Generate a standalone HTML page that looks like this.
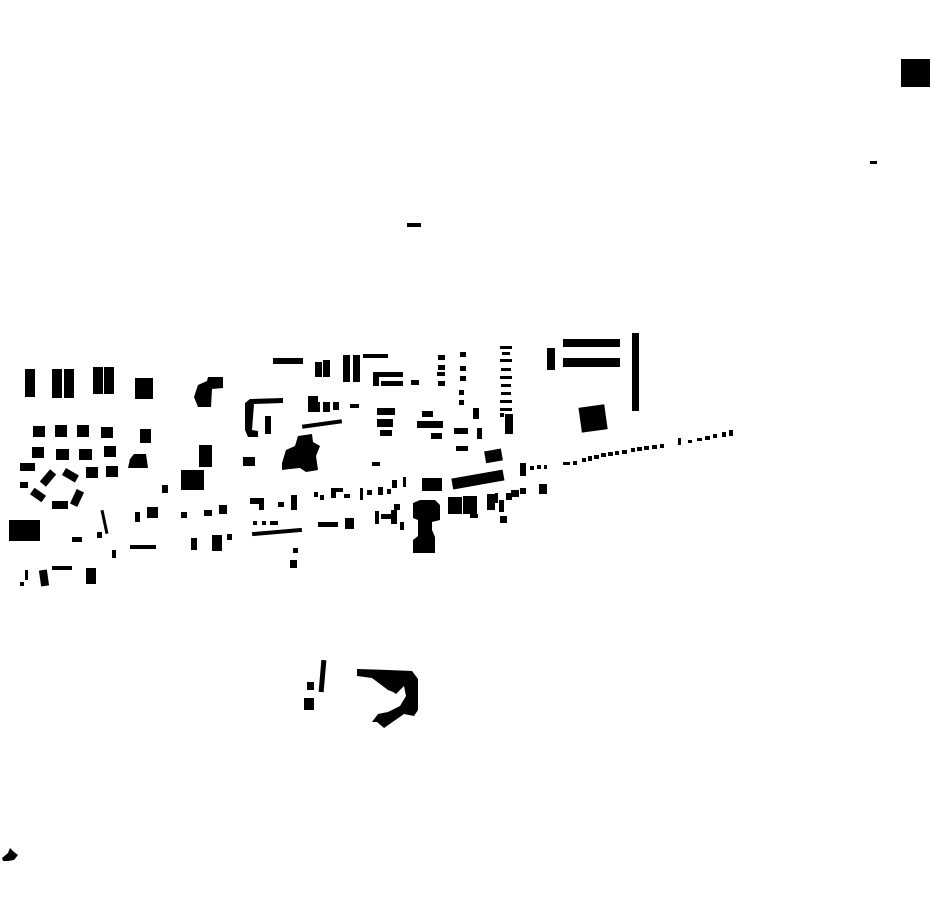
<!DOCTYPE html>
<html><head><meta charset="utf-8"><style>html,body{margin:0;padding:0;background:#fff}svg{display:block}</style></head>
<body>
<svg width="930" height="924" viewBox="0 0 930 924" xmlns="http://www.w3.org/2000/svg" fill="#000">
<!-- far -->
<rect x="901" y="59" width="29" height="28"/>
<rect x="870" y="161" width="7" height="3"/>
<rect x="407" y="223" width="14" height="4"/>
<!-- west slabs -->
<rect x="25" y="369" width="10" height="28"/>
<rect x="52" y="369" width="10" height="29"/>
<rect x="64" y="369" width="10" height="29"/>
<rect x="93" y="367" width="10" height="27"/>
<rect x="104" y="367" width="10" height="27"/>
<rect x="135" y="378" width="18" height="21"/>
<path d="M198 385 L207 381 L208 377 L223 377 L223 388 L212 389 L211 407 L198 407 L194 397 Z"/>
<!-- crosses -->
<g>
<rect x="33" y="426" width="12" height="11"/><rect x="55" y="425" width="12" height="12"/><rect x="77" y="425" width="12" height="12"/><rect x="101" y="427" width="12" height="11"/>
<rect x="32" y="447" width="12" height="11"/><rect x="56" y="449" width="13" height="11"/><rect x="79" y="449" width="13" height="11"/><rect x="104" y="446" width="12" height="11"/>
<rect x="86" y="467" width="12" height="11"/><rect x="106" y="466" width="12" height="11"/>
</g>
<rect x="140" y="429" width="11" height="14"/>
<path d="M128 468 L130 459 L134 454 L146 454 L148 468 Z"/>
<!-- ring -->
<rect x="20" y="463" width="15" height="8"/>
<rect x="44" y="470" width="8" height="16" transform="rotate(40 48 478)"/>
<rect x="63" y="471" width="15" height="8" transform="rotate(30 70 475)"/>
<rect x="20" y="482" width="8" height="6"/>
<rect x="31" y="491" width="14" height="8" transform="rotate(35 38 495)"/>
<rect x="52" y="501" width="16" height="8"/>
<rect x="73" y="490" width="8" height="16" transform="rotate(25 77 498)"/>
<rect x="9" y="520" width="31" height="21"/>
<rect x="103" y="510" width="3" height="24" transform="rotate(-12 104 522)"/>
<rect x="72" y="537" width="10" height="5"/>
<rect x="97" y="532" width="5" height="6"/>
<rect x="135" y="512" width="5" height="10"/><rect x="147" y="507" width="11" height="11"/>
<rect x="162" y="485" width="6" height="8"/>
<rect x="181" y="470" width="23" height="20"/>
<rect x="199" y="445" width="13" height="22"/>
<rect x="181" y="512" width="6" height="6"/><rect x="204" y="510" width="8" height="6"/><rect x="219" y="505" width="8" height="9"/>
<rect x="250" y="498" width="14" height="6"/><rect x="259" y="498" width="5" height="12"/>
<rect x="278" y="502" width="6" height="5"/><rect x="291" y="495" width="6" height="15"/>
<rect x="130" y="545" width="26" height="4"/>
<rect x="112" y="550" width="4" height="8"/>
<rect x="191" y="538" width="6" height="12"/><rect x="212" y="535" width="10" height="16"/><rect x="227" y="534" width="5" height="6"/>
<rect x="252" y="530" width="50" height="4" transform="rotate(-5 277 532)"/>
<rect x="293" y="548" width="5" height="5"/><rect x="290" y="560" width="7" height="8"/>
<!-- south-west -->
<rect x="25" y="570" width="3" height="10"/><rect x="20" y="582" width="4" height="4"/>
<rect x="40" y="570" width="8" height="16" transform="rotate(-8 44 578)"/>
<rect x="52" y="566" width="20" height="4"/>
<rect x="86" y="568" width="10" height="16"/>
<!-- middle north -->
<rect x="273" y="358" width="30" height="6"/>
<rect x="315" y="362" width="7" height="15"/><rect x="323" y="360" width="7" height="17"/>
<rect x="343" y="355" width="7" height="27"/><rect x="353" y="355" width="7" height="27"/>
<rect x="363" y="354" width="25" height="4"/>
<rect x="373" y="372" width="6" height="14"/><rect x="373" y="372" width="30" height="5"/><rect x="381" y="381" width="22" height="5"/>
<rect x="411" y="380" width="8" height="5"/>
<rect x="438" y="355" width="7" height="5"/><rect x="438" y="365" width="7" height="5"/><rect x="437" y="372" width="8" height="4"/><rect x="438" y="381" width="7" height="5"/>
<rect x="460" y="352" width="6" height="5"/><rect x="460" y="366" width="6" height="5"/><rect x="460" y="376" width="6" height="5"/><rect x="459" y="390" width="5" height="5"/><rect x="459" y="400" width="5" height="5"/>
<rect x="500" y="346" width="12" height="3"/><rect x="502" y="352" width="8" height="3"/><rect x="500" y="359" width="12" height="3"/><rect x="501" y="368" width="10" height="3"/><rect x="500" y="376" width="12" height="3"/><rect x="501" y="384" width="10" height="3"/><rect x="501" y="392" width="10" height="3"/><rect x="500" y="400" width="12" height="3"/><rect x="500" y="408" width="12" height="3"/><rect x="505" y="414" width="8" height="20"/><rect x="500" y="413" width="4" height="4"/>
<rect x="547" y="348" width="8" height="22"/>
<rect x="563" y="339" width="57" height="8"/><rect x="563" y="358" width="57" height="9"/>
<rect x="632" y="333" width="7" height="78"/>
<rect x="580" y="406" width="26" height="25" transform="rotate(-8 593 418)"/>
<!-- center -->
<path d="M245 403 L250 399 L283 398 L283 403 L254 404 L252 430 L258 431 L258 437 L248 437 L245 430 Z"/>
<rect x="265" y="416" width="6" height="18"/>
<rect x="308" y="396" width="10" height="7"/><rect x="308" y="402" width="12" height="10"/><rect x="323" y="402" width="7" height="10"/><rect x="333" y="402" width="6" height="8"/>
<rect x="350" y="404" width="9" height="4"/>
<rect x="302" y="422" width="40" height="4" transform="rotate(-8 322 424)"/>
<path d="M282 463 L286 450 L295 446 L298 436 L312 434 L313 442 L320 446 L316 456 L318 470 L306 472 L300 468 L290 469 L282 470 Z"/>
<rect x="243" y="457" width="12" height="9"/>
<rect x="372" y="462" width="8" height="4"/>
<rect x="377" y="408" width="18" height="7"/><rect x="377" y="419" width="16" height="8"/><rect x="380" y="430" width="12" height="6"/>
<rect x="422" y="411" width="11" height="6"/><rect x="417" y="421" width="26" height="7"/><rect x="431" y="433" width="11" height="6"/>
<rect x="454" y="428" width="14" height="6"/><rect x="456" y="446" width="12" height="5"/>
<rect x="473" y="408" width="6" height="11"/><rect x="477" y="428" width="5" height="11"/>
<rect x="485" y="450" width="17" height="12" transform="rotate(-10 493 456)"/>
<!-- main street -->
<rect x="452" y="474" width="52" height="11" transform="rotate(-10 478 480)"/>
<rect x="422" y="478" width="20" height="13"/>
<rect x="520" y="463" width="6" height="13"/>
<g>
<rect x="530" y="466" width="4" height="4"/><rect x="537" y="465" width="4" height="4"/><rect x="544" y="465" width="3" height="4"/>
<rect x="563" y="462" width="7" height="3"/><rect x="573" y="461" width="4" height="4"/><rect x="582" y="458" width="4" height="4"/><rect x="588" y="456" width="4" height="5"/><rect x="594" y="455" width="5" height="4"/><rect x="601" y="453" width="5" height="4"/><rect x="608" y="452" width="5" height="4"/><rect x="615" y="451" width="4" height="4"/><rect x="622" y="450" width="5" height="4"/><rect x="631" y="448" width="4" height="4"/><rect x="637" y="447" width="5" height="4"/><rect x="644" y="446" width="5" height="4"/><rect x="652" y="445" width="5" height="4"/><rect x="660" y="444" width="4" height="4"/>
<rect x="678" y="438" width="3" height="7"/><rect x="688" y="440" width="4" height="3"/><rect x="697" y="438" width="5" height="3"/><rect x="705" y="436" width="5" height="4"/><rect x="713" y="434" width="4" height="4"/><rect x="722" y="432" width="4" height="5"/><rect x="729" y="430" width="4" height="6"/>
</g>
<rect x="314" y="492" width="4" height="5"/><rect x="320" y="495" width="4" height="5"/>
<rect x="331" y="488" width="12" height="4"/><rect x="331" y="488" width="5" height="10"/><rect x="344" y="494" width="6" height="4"/>
<rect x="360" y="488" width="3" height="12"/><rect x="367" y="490" width="5" height="5"/><rect x="378" y="487" width="5" height="8"/><rect x="387" y="489" width="4" height="5"/><rect x="392" y="480" width="5" height="8"/><rect x="403" y="477" width="3" height="10"/>
<rect x="375" y="511" width="4" height="13"/><rect x="381" y="514" width="10" height="5"/><rect x="391" y="510" width="6" height="14"/><rect x="394" y="504" width="6" height="6"/>
<rect x="400" y="522" width="4" height="8"/>
<path d="M413 503 L420 500 L435 500 L440 505 L440 520 L432 522 L432 530 L435 537 L435 553 L413 553 L413 540 L418 536 L418 520 L413 518 Z"/>
<rect x="430" y="513" width="10" height="4"/>
<rect x="448" y="497" width="14" height="17"/><rect x="463" y="496" width="14" height="18"/>
<rect x="470" y="514" width="8" height="4"/>
<rect x="487" y="494" width="8" height="16"/><rect x="495" y="493" width="3" height="10"/><rect x="499" y="500" width="5" height="12"/><rect x="506" y="493" width="6" height="7"/><rect x="511" y="490" width="8" height="7"/><rect x="520" y="488" width="6" height="6"/>
<rect x="539" y="484" width="8" height="10"/>
<rect x="500" y="516" width="7" height="7"/>
<rect x="253" y="521" width="4" height="4"/><rect x="262" y="521" width="4" height="4"/><rect x="270" y="521" width="8" height="4"/>
<rect x="318" y="522" width="20" height="5"/>
<rect x="345" y="518" width="9" height="11"/>
<!-- south -->
<rect x="320" y="660" width="5" height="32" transform="rotate(5 322 676)"/>
<rect x="307" y="682" width="7" height="8"/><rect x="304" y="698" width="10" height="12"/>
<path d="M357 669 L388 670 L412 671 L418 679 L418 710 L414 716 L404 714 L394 721 L384 728 L377 722 L372 722 L378 714 L388 712 L400 706 L406 696 L404 686 L396 694 L393 692 L388 690 L380 684 L372 678 L357 676 Z"/>
<path d="M2 858 L8 853 L10 848 L14 852 L18 855 L14 860 L8 861 L3 861 Z"/>
</svg>
</body></html>
